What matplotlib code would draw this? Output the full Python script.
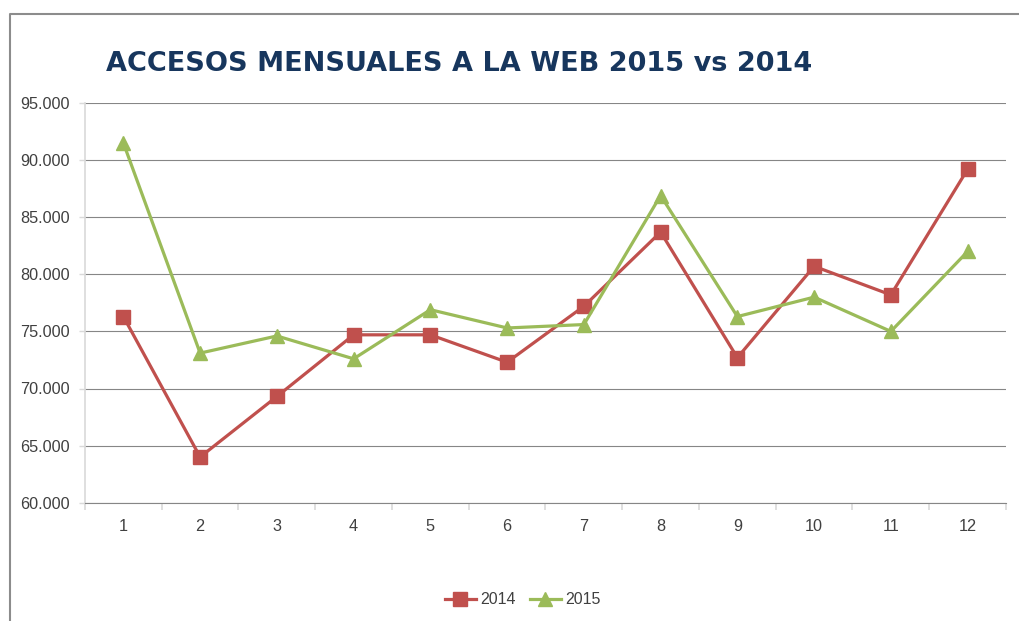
import matplotlib
matplotlib.use("Agg")
import matplotlib.pyplot as plt
from matplotlib.lines import Line2D
from matplotlib.ticker import FuncFormatter, FixedLocator

# Monthly web accesses
months = list(range(1, 13))
accesos_2014 = [76300, 64000, 69300, 74700, 74700, 72300, 77200, 83700, 72700, 80700, 78200, 89200]
accesos_2015 = [91500, 73100, 74600, 72600, 76900, 75300, 75600, 86900, 76300, 78000, 75000, 82000]

RED = "#C0504D"
GREEN = "#9BBB59"
GRID = "#868686"
LIGHT = "#D9D9D9"
TEXT = "#404040"

W, H = 1020, 621
fig = plt.figure(figsize=(W / 100, H / 100), dpi=100)
ax = fig.add_axes([85 / W, 1 - 502.7 / H, (1006 - 85) / W, (502.7 - 103) / H])

ax.plot(months, accesos_2014, color=RED, lw=2.3, marker="s", ms=9.5,
        mec=RED, mfc=RED, label="2014", zorder=3)
ax.plot(months, accesos_2015, color=GREEN, lw=2.3, marker="^", ms=10.5,
        mec=GREEN, mfc=GREEN, label="2015", zorder=3)

ax.set_xlim(0.5, 12.5)
ax.set_ylim(60000, 95000)
ax.set_yticks(range(60000, 95001, 5000))
ax.yaxis.set_major_formatter(FuncFormatter(lambda v, p: f"{int(v):,}".replace(",", ".")))
ax.set_xticks(months)
ax.xaxis.set_minor_locator(FixedLocator([m + 0.5 for m in range(0, 13)]))

ax.grid(axis="y", color=GRID, lw=0.8, zorder=0)
for s in ["top", "right"]:
    ax.spines[s].set_visible(False)
ax.spines["left"].set_color(LIGHT)
ax.spines["left"].set_linewidth(1.2)
ax.spines["bottom"].set_color(GRID)
ax.spines["bottom"].set_linewidth(0.8)

ax.tick_params(axis="y", length=4, color=LIGHT, width=1, pad=7,
               labelsize=11.7, labelcolor=TEXT)
ax.tick_params(axis="x", which="major", length=0, pad=12,
               labelsize=11.7, labelcolor=TEXT)
ax.tick_params(axis="x", which="minor", length=5, color=LIGHT, width=1.2)
for lab in ax.get_xticklabels() + ax.get_yticklabels():
    lab.set_fontfamily("Liberation Sans")

fig.text(106 / W, 1 - 64 / H, "ACCESOS MENSUALES A LA WEB 2015 vs 2014",
         fontsize=19.5, fontweight="bold", color="#17365D", va="center", ha="left")

# chart area border (only top and left edges are inside the picture)
fig.add_artist(Line2D([10 / W, 10 / W, 1], [0, 1 - 14 / H, 1 - 14 / H],
                      transform=fig.transFigure, color="#8C8C8C", lw=1.5))

fig.legend(loc="center", bbox_to_anchor=(523 / W, 1 - 600 / H), ncol=2,
           frameon=False, handlelength=1.9, columnspacing=0.9, handletextpad=0.3,
           prop={"family": "Liberation Sans", "size": 11.5}, labelcolor=TEXT)

fig.savefig("out.png", dpi=100)
